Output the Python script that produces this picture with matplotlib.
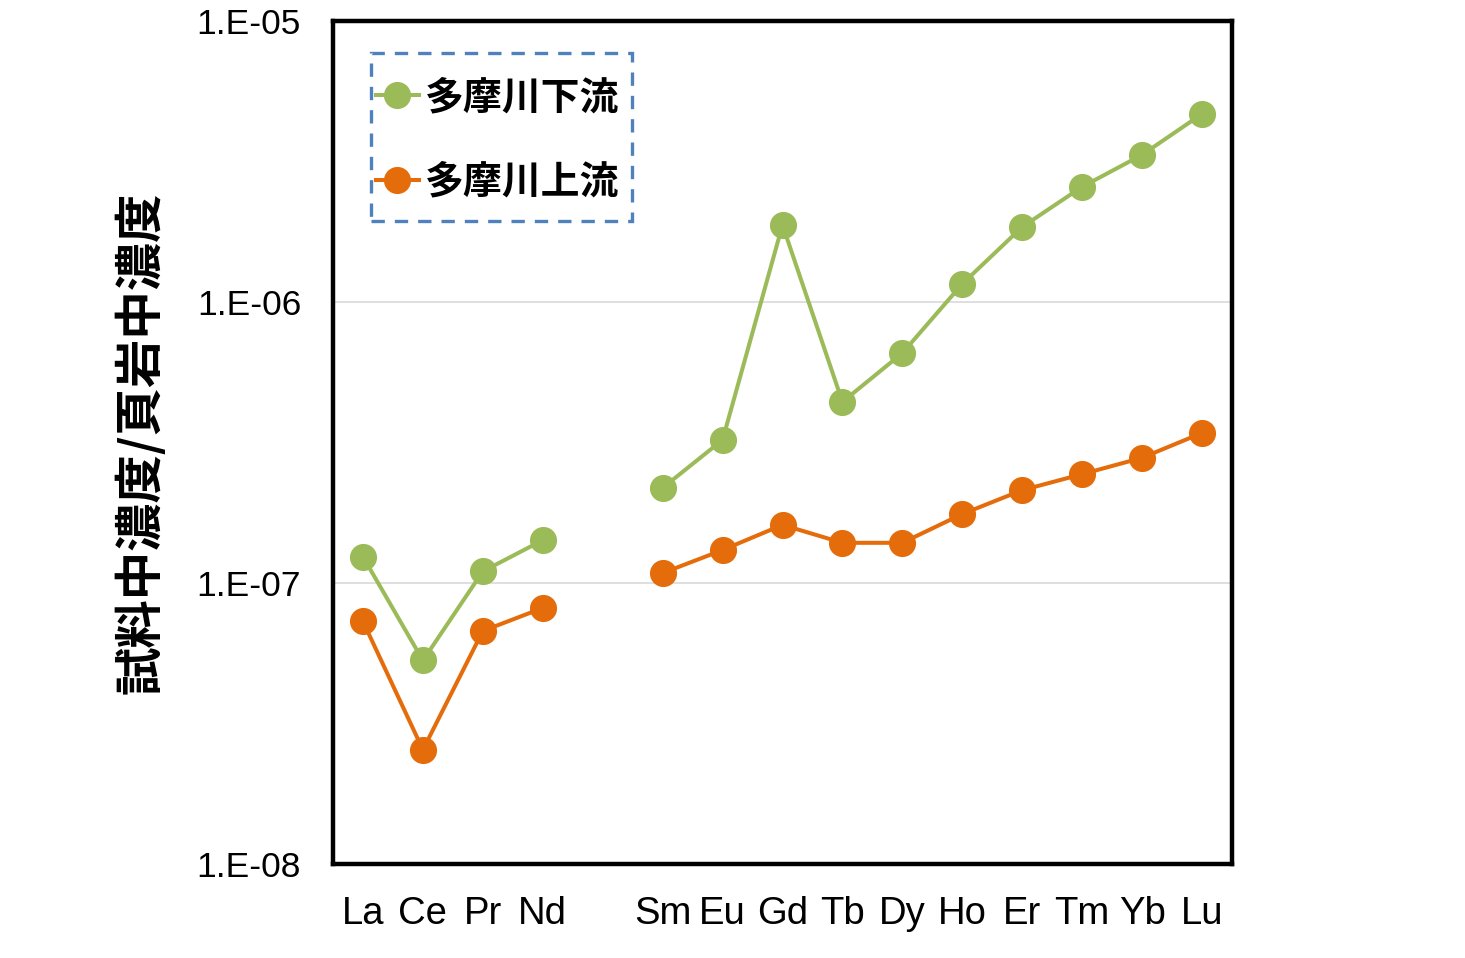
import numpy as np
import matplotlib
matplotlib.use("Agg")
import matplotlib.pyplot as plt
from matplotlib.patches import Rectangle

elements = ["La", "Ce", "Pr", "Nd", "", "Sm", "Eu", "Gd", "Tb", "Dy", "Ho", "Er", "Tm", "Yb", "Lu"]
downstream = [1.24e-7, 5.3e-8, 1.10e-7, 1.42e-7, np.nan, 2.18e-7, 3.23e-7, 1.88e-6,
              4.41e-7, 6.58e-7, 1.16e-6, 1.85e-6, 2.57e-6, 3.34e-6, 4.67e-6]
upstream = [7.3e-8, 2.55e-8, 6.75e-8, 8.15e-8, np.nan, 1.085e-7, 1.31e-7, 1.61e-7,
            1.39e-7, 1.39e-7, 1.76e-7, 2.14e-7, 2.44e-7, 2.79e-7, 3.42e-7]
yticks = [1e-8, 1e-7, 1e-6, 1e-5]
ytick_labels = ["1.E-08", "1.E-07", "1.E-06", "1.E-05"]

GREEN = "#9BBB59"
ORANGE = "#E46C0A"
CJK = ["Noto Sans CJK JP", "DejaVu Sans"]
W, H = 1465, 958

fig = plt.figure(figsize=(W / 100, H / 100), dpi=100)
ax = fig.add_axes([333 / W, 1 - 864 / H, (1232 - 333) / W, (864 - 21) / H])
x = np.arange(len(elements))
ax.plot(x, downstream, "-o", color=GREEN, lw=2.9, ms=18.5, label="多摩川下流", zorder=3)
ax.plot(x, upstream, "-o", color=ORANGE, lw=2.9, ms=18.5, label="多摩川上流", zorder=3)

ax.set_yscale("log")
ax.set_ylim(1e-8, 1e-5)
ax.set_xlim(-0.5, len(elements) - 0.5)
ax.set_yticks(yticks, ytick_labels, fontfamily="Liberation Sans", fontsize=25.5)
ax.yaxis.set_minor_locator(matplotlib.ticker.NullLocator())
ax.set_xticks(x, elements, fontfamily="Liberation Sans", fontsize=27.5)
ax.tick_params(length=0, axis="y", pad=23)
ax.tick_params(length=0, axis="x", pad=23)
ax.grid(axis="y", color="#D9D9D9", lw=1.2, zorder=0)
for s in ax.spines.values():
    s.set_linewidth(3.2)
    s.set_color("black")

ax.set_ylabel("試料中濃度/頁岩中濃度", fontfamily=CJK, fontsize=34.8, fontweight="bold", labelpad=22)

# legend without its own frame; dashed box drawn separately (asymmetric padding)
leg = ax.legend(loc="upper left", bbox_to_anchor=(376 / W, 1 - 78 / H), bbox_transform=fig.transFigure,
                prop=dict(family=CJK, size=28, weight="bold"), handlelength=1.1, handletextpad=0.15,
                borderpad=0, labelspacing=1.18, borderaxespad=0, frameon=False)
fig.add_artist(Rectangle((371 / W, 1 - 221 / H), (632 - 371) / W, (221 - 53) / H,
                         transform=fig.transFigure, fill=False, edgecolor="#4F81BD",
                         lw=2.4, linestyle=(0, (4, 3))))

fig.savefig("out.png", dpi=100)
